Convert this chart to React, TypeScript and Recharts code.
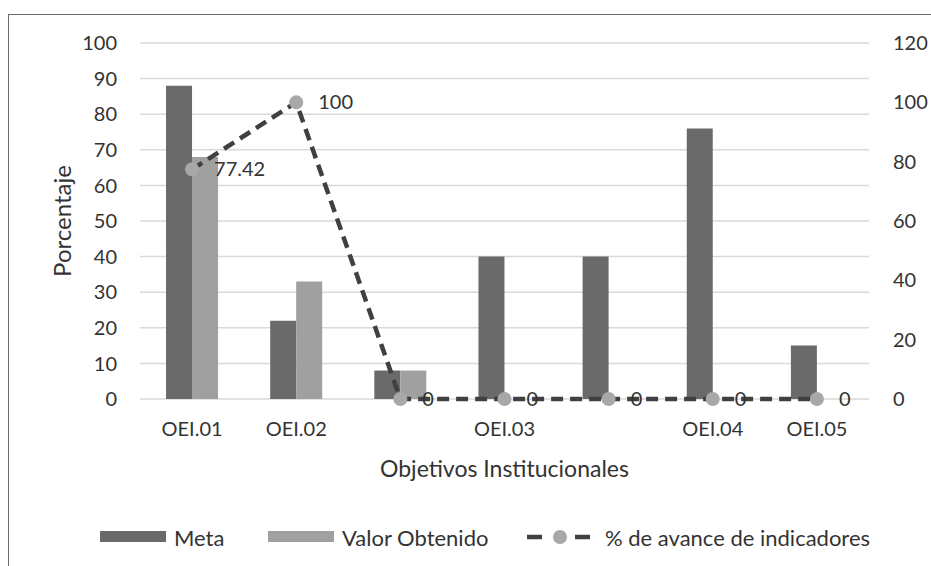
import React from 'react';
import {
  ComposedChart, Bar, Line, XAxis, YAxis, CartesianGrid, Legend, LabelList, Label,
} from 'recharts';

const categories = ['OEI.01', 'OEI.02', '', 'OEI.03', '', 'OEI.04', 'OEI.05'];
const metaValues = [88, 22, 8, 40, 40, 76, 15];
const valorValues = [68, 33, 8, 0, 0, 0, 0];
const avanceValues = [77.42, 100, 0, 0, 0, 0, 0];
const leftTicks = [0, 10, 20, 30, 40, 50, 60, 70, 80, 90, 100];
const rightTicks = [0, 20, 40, 60, 80, 100, 120];
const legendOrder = ['meta', 'valor', 'avance'];

const data = categories.map((name, i) => ({
  name,
  meta: metaValues[i],
  valor: valorValues[i],
  avance: avanceValues[i],
}));

const FONT = 'Lato, "Open Sans", sans-serif';
const TEXT = '#333333';
const META_COLOR = '#6a6a6a';
const VALOR_COLOR = '#a0a0a0';
const LINE_COLOR = '#404040';
const DOT_COLOR = '#a8a8a8';

const legendLefts = [100, 268, 527];

const LegendContent = (props: any) => {
  const payload = [...(props.payload || [])].sort(
    (a: any, b: any) => legendOrder.indexOf(a.dataKey) - legendOrder.indexOf(b.dataKey)
  );
  return (
    <div style={{ position: 'relative', height: 24, width: 931, fontFamily: FONT, fontSize: 22, color: TEXT }}>
      {payload.map((p: any, i: number) => {
        const isLine = p.dataKey === 'avance';
        return (
          <div key={i} style={{ position: 'absolute', left: legendLefts[i], top: 0, display: 'flex', alignItems: 'center', height: 24, whiteSpace: 'nowrap' }}>
            {isLine ? (
              <svg width={64} height={16} style={{ marginRight: 14 }}>
                <line x1={0} y1={8} x2={15} y2={8} stroke={LINE_COLOR} strokeWidth={4.5} />
                <circle cx={33} cy={8} r={7} fill={DOT_COLOR} />
                <line x1={48} y1={8} x2={63} y2={8} stroke={LINE_COLOR} strokeWidth={4.5} />
              </svg>
            ) : (
              <svg width={66} height={12} style={{ marginRight: 8 }}>
                <rect x={0} y={0} width={66} height={11} fill={p.color} />
              </svg>
            )}
            <span>{p.value}</span>
          </div>
        );
      })}
    </div>
  );
};

const YTitle = (props: any) => {
  const vb = props.viewBox || {};
  const x = vb.x + 21;
  const y = vb.y + vb.height / 2;
  return (
    <text x={x} y={y} transform={`rotate(-90, ${x}, ${y})`} textAnchor="middle" dominantBaseline="central"
      fontFamily={FONT} fontSize={24} fill={TEXT}>
      Porcentaje
    </text>
  );
};

export default function App() {
  return (
    <div style={{ position: 'absolute', left: 0, top: 0, width: 931, height: 566, background: '#fff', overflow: 'hidden' }}>
      <div style={{ position: 'absolute', left: 8, top: 14, width: 960, height: 600, borderTop: '1.5px solid #6b6b6b', borderLeft: '1.5px solid #6b6b6b' }} />
      <ComposedChart
        width={931}
        height={566}
        data={data}
        margin={{ top: 43, right: 0, bottom: 127, left: 40 }}
        barCategoryGap="25%"
        barGap={0}
        style={{ position: 'absolute', left: 0, top: 0 }}
      >
        <CartesianGrid yAxisId="left" vertical={false} stroke="#d9d9d9" strokeWidth={1.5} />
        <XAxis
          dataKey="name"
          axisLine={false}
          tickLine={false}
          tickSize={0}
          tickMargin={23}
          height={40}
          interval={0}
          tick={{ fontFamily: FONT, fontSize: 20, fill: TEXT }}
        >
          <Label value="Objetivos Institucionales" position="bottom" offset={22}
            style={{ fontFamily: FONT, fontSize: 23, fill: TEXT }} />
        </XAxis>
        <YAxis
          yAxisId="left"
          width={100}
          domain={[0, 100]}
          ticks={leftTicks}
          axisLine={false}
          tickLine={false}
          tickSize={0}
          tickMargin={23}
          tick={{ fontFamily: FONT, fontSize: 20, fill: TEXT }}
        >
          <Label content={<YTitle />} />
        </YAxis>
        <YAxis
          yAxisId="right"
          orientation="right"
          width={62}
          domain={[0, 120]}
          ticks={rightTicks}
          axisLine={false}
          tickLine={false}
          tickSize={0}
          tickMargin={24}
          tick={{ fontFamily: FONT, fontSize: 20, fill: TEXT }}
        />
        <Legend
          layout="vertical"
          align="center"
          verticalAlign="middle"
          content={<LegendContent />}
          wrapperStyle={{ position: 'absolute', top: 525, left: 0, width: 931 }}
        />
        <Bar yAxisId="left" dataKey="meta" name="Meta" fill={META_COLOR} isAnimationActive={false} />
        <Bar yAxisId="left" dataKey="valor" name="Valor Obtenido" fill={VALOR_COLOR} isAnimationActive={false} />
        <Line
          yAxisId="right"
          dataKey="avance"
          name="% de avance de indicadores"
          stroke={LINE_COLOR}
          strokeWidth={4.5}
          strokeDasharray="12 7"
          dot={{ r: 7, fill: DOT_COLOR, stroke: 'none', strokeDasharray: '' }}
          activeDot={false}
          isAnimationActive={false}
        >
          <LabelList dataKey="avance" position="right" offset={22}
            style={{ fontFamily: FONT, fontSize: 20, fill: TEXT }} />
        </Line>
      </ComposedChart>
    </div>
  );
}
